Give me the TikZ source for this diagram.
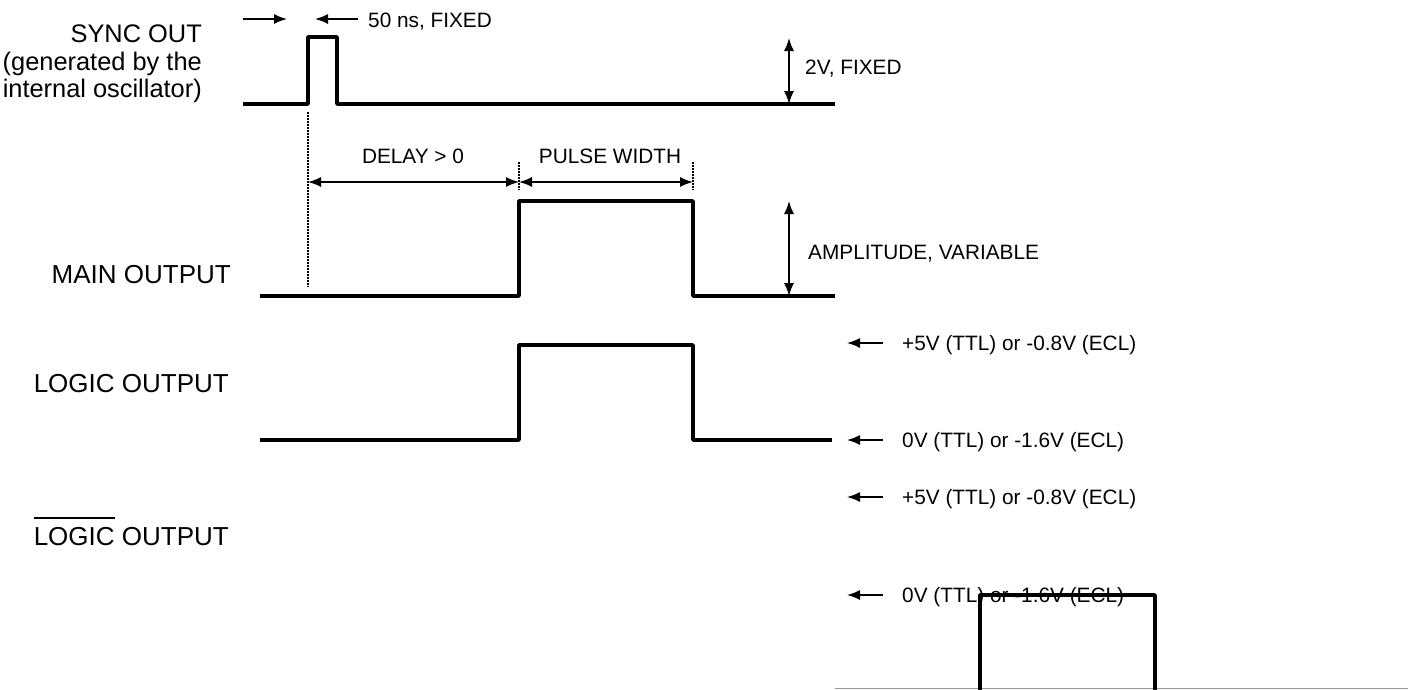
\documentclass[tikz,border=0pt]{standalone}
\usepackage{fontspec}
\setmainfont{Liberation Sans}
\usetikzlibrary{arrows.meta}
\newcommand\barred[1]{\setbox0\hbox{#1}\rlap{\rule[\dimexpr\ht0+8pt\relax]{\wd0}{1.4pt}}\box0{}}
\begin{document}
\begin{tikzpicture}[x=1pt,y=-1pt,
  wave/.style={line width=3.6pt, line join=round, line cap=butt},
  dim/.style={line width=1.5pt, {Latex[length=13pt,width=10pt]}-{Latex[length=13pt,width=10pt]}},
  ptr/.style={line width=1.5pt, -{Latex[length=13pt,width=10pt]}},
  guide/.style={line width=1.3pt, dash pattern=on 1.5pt off 1.5pt},
  big/.style={font=\fontsize{26}{27.5}\selectfont, inner sep=0pt},
  sbig/.style={font=\fontsize{25.4}{27.5}\selectfont, inner sep=0pt},
  small/.style={font=\fontsize{20.8}{23}\selectfont, inner sep=0pt},
  ground/.style={line width=1pt, draw=black!40}]
\useasboundingbox (0,0) rectangle (1408,689);

% left labels
\node[sbig, anchor=north east, align=right] (sync) at (202,25) {SYNC OUT\\(generated by the\\internal oscillator)};
\node[big, anchor=base east] (main) at (231,283) {MAIN OUTPUT};
\node[big, anchor=base east] (logic) at (229,392) {LOGIC OUTPUT};
\node[big, anchor=base east] (nlogic) at (229,545) {\barred{LOGIC} OUTPUT};

% small labels
\node[small, anchor=base west] (t50) at (368,27) {50 ns, FIXED};
\node[small, anchor=base west] (t2v) at (805,74) {2V, FIXED};
\node[small, anchor=base] (tdelay) at (413,163) {DELAY > 0};
\node[small, anchor=base] (tpw) at (610,163) {PULSE WIDTH};
\node[small, anchor=base west] (tamp) at (808,259) {AMPLITUDE, VARIABLE};
\node[small, anchor=base west] (th1) at (902,350) {+5V (TTL) or -0.8V (ECL)};
\node[small, anchor=base west] (tl1) at (902,447) {0V (TTL) or -1.6V (ECL)};
\node[small, anchor=base west] (th2) at (902,504) {+5V (TTL) or -0.8V (ECL)};
\node[small, anchor=base west] (tl2) at (902,602) {0V (TTL) or -1.6V (ECL)};

% coordinates
\coordinate (w50a) at (243,19);  \coordinate (w50b) at (287,19);
\coordinate (w50c) at (358,19);  \coordinate (w50d) at (315,19);
\coordinate (v2a) at (789,38);   \coordinate (v2b) at (789,104);
\coordinate (vma) at (789,201);  \coordinate (vmb) at (789,296);
\coordinate (d0) at (308,182);   \coordinate (d1) at (519,182);  \coordinate (d2) at (693,182);
\coordinate (g0a) at (308,112);  \coordinate (g0b) at (308,287);
\coordinate (g1a) at (519,162);  \coordinate (g1b) at (519,190);
\coordinate (g2a) at (693,162);  \coordinate (g2b) at (693,190);
\coordinate (h1s) at (883,343);  \coordinate (h1e) at (847,343);
\coordinate (l1s) at (883,440);  \coordinate (l1e) at (847,440);
\coordinate (h2s) at (883,497);  \coordinate (h2e) at (847,497);
\coordinate (l2s) at (883,595);  \coordinate (l2e) at (847,595);

% dimension arrows
\draw[ptr] (w50a) -- (w50b);
\draw[ptr] (w50c) -- (w50d);
\draw[dim] (v2a) -- (v2b);
\draw[dim] (vma) -- (vmb);
\draw[dim] (d0) -- (d1);
\draw[dim] (d1) -- (d2);
\draw[guide] (g0a) -- (g0b);
\draw[guide] (g1a) -- (g1b);
\draw[guide] (g2a) -- (g2b);
\draw[ptr] (h1s) -- (h1e);
\draw[ptr] (l1s) -- (l1e);
\draw[ptr] (h2s) -- (h2e);
\draw[ptr] (l2s) -- (l2e);

% waveforms
\draw[wave] (243,104) -- (308,104) -- (308,37) -- (337,37) -- (337,104) -- (835,104);
\draw[wave] (260,296) -- (519,296) -- (519,201) -- (693,201) -- (693,296) -- (835,296);
\draw[wave] (260,440) -- (519,440) -- (519,345) -- (693,345) -- (693,440) -- (832,440);
\draw[ground] (835,688) -- (1408,688);
\draw[wave] (980,695) -- (980,595) -- (1155,595) -- (1155,695);
\end{tikzpicture}
\end{document}
